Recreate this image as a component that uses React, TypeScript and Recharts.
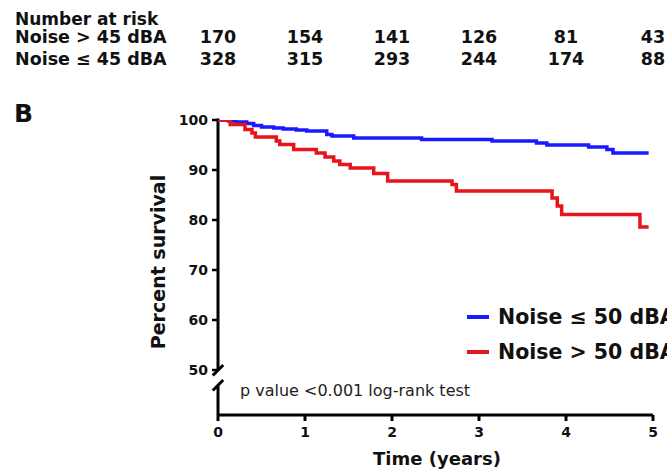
import React from 'react';
import { LineChart, Line, XAxis, YAxis, ReferenceLine, Legend } from 'recharts';

// Kaplan-Meier steps (time in years, percent surviving)
const lowNoiseTimes = [0, 0.12, 0.21, 0.33, 0.41, 0.5, 0.64, 0.75, 0.9, 1.02, 1.25, 1.31, 1.56, 2.34, 3.15, 3.66, 3.78, 4.26, 4.47, 4.54, 4.95];
const lowNoiseSurvival = [100, 99.8, 99.6, 99.3, 98.9, 98.6, 98.4, 98.2, 98.0, 97.8, 97.1, 96.8, 96.4, 96.1, 95.8, 95.4, 95.0, 94.6, 94.1, 93.4, 93.4];

const highNoiseTimes = [0, 0.14, 0.31, 0.39, 0.43, 0.67, 0.71, 0.87, 1.13, 1.23, 1.33, 1.4, 1.52, 1.79, 1.95, 2.69, 2.74, 3.84, 3.9, 3.95, 4.85, 4.95];
const highNoiseSurvival = [100, 99.1, 98.1, 97.4, 96.6, 95.8, 95.1, 94.1, 93.4, 92.6, 91.8, 91.1, 90.4, 89.3, 87.8, 87.1, 85.8, 84.4, 82.8, 81.1, 78.6, 78.6];

const seriesNames = ['Noise \u2264 50 dBA', 'Noise > 50 dBA'];

// number at risk table
const riskTimes = [0, 1, 2, 3, 4, 5];
const riskHigh = [170, 154, 141, 126, 81, 43];
const riskLow = [328, 315, 293, 244, 174, 88];
const riskLabels = ['Noise > 45 dBA', 'Noise \u2264 45 dBA'];

const xTicks = [0, 1, 2, 3, 4, 5];
const yTicks = [50, 60, 70, 80, 90, 100];

const FONT = '"DejaVu Sans", sans-serif';
const BLUE = '#1a1aff';
const RED = '#e8141c';
const INK = '#111';

const toPoints = (times: number[], surv: number[]) =>
  times.map((t, i) => ({ t, s: surv[i] }));

// x tick: the year label under the axis, plus the at-risk counts for that year up top
const TimeTick = (props: any) => {
  const { x, y, payload } = props;
  const i = riskTimes.indexOf(payload.value);
  return (
    <g fontFamily={FONT} fontWeight={700} fill={INK}>
      <text x={x} y={y} dy="0.71em" textAnchor="middle" fontSize={14}>{payload.value}</text>
      {i >= 0 && (
        <>
          <text x={x} y={42.5} textAnchor="middle" fontSize={17.5}>{riskHigh[i]}</text>
          <text x={x} y={64.5} textAnchor="middle" fontSize={17.5}>{riskLow[i]}</text>
        </>
      )}
    </g>
  );
};

const LegendBox = (props: any) => {
  const items = [...(props.payload || [])].sort(
    (a: any, b: any) => seriesNames.indexOf(a.value) - seriesNames.indexOf(b.value)
  );
  return (
    <div style={{ fontFamily: FONT, fontWeight: 700, fontSize: 20.5, color: INK }}>
      {items.map((p: any) => (
        <div key={p.value} style={{ display: 'flex', alignItems: 'center', height: 35, whiteSpace: 'nowrap' }}>
          <span style={{ display: 'inline-block', width: 22, height: 4, background: p.color, marginRight: 9 }} />
          {p.value}
        </div>
      ))}
    </div>
  );
};

const tickStyle = { fill: INK, fontSize: 14, fontWeight: 700, fontFamily: FONT };
const axisPen = { stroke: '#000', strokeWidth: 3 };

export default function App() {
  const lowData = toPoints(lowNoiseTimes, lowNoiseSurvival);
  const highData = toPoints(highNoiseTimes, highNoiseSurvival);

  return (
    <div style={{ position: 'absolute', left: 0, top: 0, width: 667, height: 472, overflow: 'hidden', background: '#fff' }}>
      <LineChart width={667} height={472} margin={{ top: 120, right: 14, bottom: 27, left: 158 }}>
        <XAxis
          dataKey="t"
          type="number"
          domain={[0, 5]}
          ticks={xTicks}
          height={30}
          axisLine={axisPen}
          tickLine={axisPen}
          tickSize={6}
          tickMargin={6}
          tick={<TimeTick />}
        />
        <YAxis
          type="number"
          domain={[41, 100]}
          ticks={yTicks}
          width={60}
          axisLine={false}
          tickLine={{ stroke: '#000', strokeWidth: 2.5 }}
          tickSize={6}
          tickMargin={4}
          tick={tickStyle}
          allowDataOverflow
        />
        {/* broken y axis */}
        <ReferenceLine segment={[{ x: 0, y: 100.3 }, { x: 0, y: 50 }]} {...axisPen} ifOverflow="visible" />
        <ReferenceLine segment={[{ x: -0.06, y: 48.9 }, { x: 0.06, y: 51.0 }]} {...axisPen} ifOverflow="visible" />
        <ReferenceLine segment={[{ x: -0.06, y: 45.9 }, { x: 0.06, y: 48.0 }]} {...axisPen} ifOverflow="visible" />
        <ReferenceLine segment={[{ x: 0, y: 47.0 }, { x: 0, y: 41 }]} {...axisPen} ifOverflow="visible" />
        <Line
          data={lowData}
          dataKey="s"
          name={seriesNames[0]}
          type="stepAfter"
          stroke={BLUE}
          strokeWidth={3.5}
          dot={false}
          isAnimationActive={false}
        />
        <Line
          data={highData}
          dataKey="s"
          name={seriesNames[1]}
          type="stepAfter"
          stroke={RED}
          strokeWidth={3.5}
          dot={false}
          isAnimationActive={false}
        />
        <Legend
          layout="vertical"
          align="center"
          verticalAlign="middle"
          content={<LegendBox />}
          wrapperStyle={{ left: 467, top: 299, width: 260 }}
        />
      </LineChart>

      <svg width={667} height={472} style={{ position: 'absolute', left: 0, top: 0, pointerEvents: 'none' }}>
        <g fontFamily={FONT} fontWeight={700} fill={INK}>
          <text x={15} y={24.5} fontSize={17}>Number at risk</text>
          <text x={15} y={42.5} fontSize={17.5}>{riskLabels[0]}</text>
          <text x={15} y={64.5} fontSize={17.5}>{riskLabels[1]}</text>
          <text x={14} y={122} fontSize={25}>B</text>
          <text transform="translate(165,262) rotate(-90)" textAnchor="middle" fontSize={19}>Percent survival</text>
          <text x={437} y={465} textAnchor="middle" fontSize={18}>Time (years)</text>
        </g>
        <text x={240} y={396} fontFamily={FONT} fontSize={16} fill="#222">p value &lt;0.001 log-rank test</text>
      </svg>
    </div>
  );
}
